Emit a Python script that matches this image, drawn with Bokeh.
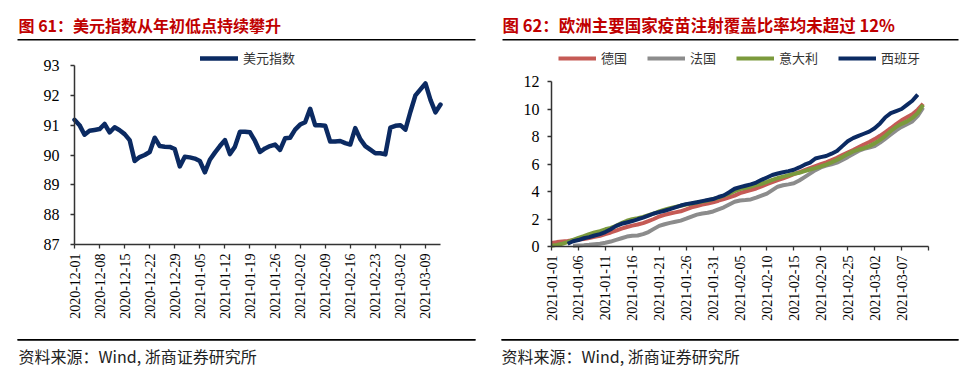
import math
from bokeh.plotting import figure
from bokeh.layouts import row, column
from bokeh.models import Range1d, FixedTicker, Legend, LegendItem, LinearAxis
from bokeh.core.properties import value
from bokeh.embed import file_html
from bokeh.resources import INLINE

# ---------------- data ----------------
title_left = "图 61：美元指数从年初低点持续攀升"
title_right = "图 62：欧洲主要国家疫苗注射覆盖比率均未超过 12%"
source_text = "资料来源：Wind, 浙商证券研究所"

dxy_label = "美元指数"
# one value per weekday from 2020-12-01 to 2021-03-12
dxy_values = [91.18, 91.00, 90.68, 90.81, 90.84, 90.87, 91.04, 90.76, 90.93, 90.83,
              90.70, 90.50, 89.80, 89.93, 90.00, 90.10, 90.58, 90.30, 90.28, 90.27,
              90.20, 89.62, 89.94, 89.92, 89.88, 89.80, 89.42, 89.84, 90.08, 90.30,
              90.50, 90.03, 90.28, 90.78, 90.78, 90.76, 90.47, 90.10, 90.22, 90.30,
              90.35, 90.17, 90.56, 90.58, 90.85, 91.02, 91.10, 91.55, 91.00, 91.00,
              90.98, 90.45, 90.45, 90.47, 90.40, 90.35, 90.90, 90.53, 90.30, 90.18,
              90.06, 90.06, 90.02, 90.92, 90.98, 91.00, 90.85, 91.45, 92.00, 92.20,
              92.40, 91.85, 91.43, 91.69]
dxy_tick_labels = ["2020-12-01", "2020-12-08", "2020-12-15", "2020-12-22", "2020-12-29",
                   "2021-01-05", "2021-01-12", "2021-01-19", "2021-01-26", "2021-02-02",
                   "2021-02-09", "2021-02-16", "2021-02-23", "2021-03-02", "2021-03-09"]
dxy_tick_step = 5          # weekdays between labelled ticks
dxy_y_ticks = [87, 88, 89, 90, 91, 92, 93]

# vaccination coverage (%), daily from 2021-01-01 (day 0)
vac_names = ["德国", "法国", "意大利", "西班牙"]
germany_start = 0
germany = [0.25, 0.32, 0.36, 0.40, 0.45, 0.50, 0.55, 0.62, 0.70, 0.78,
           0.90, 1.02, 1.15, 1.30, 1.42, 1.52, 1.60, 1.70, 1.85, 2.00,
           2.18, 2.30, 2.40, 2.48, 2.56, 2.70, 2.85, 2.95, 3.05, 3.13,
           3.22, 3.33, 3.45, 3.58, 3.70, 3.88, 4.00, 4.10, 4.22, 4.38,
           4.54, 4.68, 4.82, 4.95, 5.10, 5.26, 5.40, 5.55, 5.70, 5.85,
           5.99, 6.12, 6.28, 6.45, 6.65, 6.84, 7.02, 7.22, 7.42, 7.60,
           7.81, 8.05, 8.32, 8.60, 8.90, 9.18, 9.40, 9.62, 9.95, 10.38]
france_start = 4
france = [0.05, 0.08, 0.10, 0.13, 0.17, 0.20,
          0.27, 0.36, 0.48, 0.60, 0.72, 0.78, 0.80, 0.90, 1.05, 1.28,
          1.50, 1.62, 1.72, 1.80, 1.88, 2.02, 2.18, 2.32, 2.40, 2.45,
          2.55, 2.70, 2.85, 3.05, 3.25, 3.35, 3.38, 3.42, 3.55, 3.70,
          3.85, 4.10, 4.35, 4.45, 4.52, 4.60, 4.80, 5.05, 5.30, 5.55,
          5.75, 5.88, 5.98, 6.10, 6.30, 6.50, 6.72, 6.95, 7.10, 7.20,
          7.30, 7.55, 7.85, 8.15, 8.45, 8.70, 8.90, 9.10, 9.50, 10.10]
italy_start = 0
italy = [0.05, 0.12, 0.20, 0.32, 0.48, 0.62, 0.75, 0.90, 1.02, 1.12,
         1.25, 1.35, 1.50, 1.70, 1.87, 1.98, 2.06, 2.15, 2.28, 2.40,
         2.55, 2.68, 2.78, 2.88, 2.96, 3.05, 3.12, 3.20, 3.27, 3.35,
         3.45, 3.55, 3.70, 3.85, 4.02, 4.17, 4.25, 4.35, 4.47, 4.56,
         4.70, 4.85, 4.98, 5.08, 5.18, 5.28, 5.36, 5.48, 5.60, 5.70,
         5.82, 5.96, 6.12, 6.30, 6.50, 6.72, 6.92, 7.05, 7.15, 7.30,
         7.50, 7.75, 8.05, 8.40, 8.70, 8.92, 9.10, 9.35, 9.70, 10.30]
spain_start = 3
spain = [0.20, 0.38, 0.47, 0.60, 0.68, 0.80, 0.90,
         1.05, 1.26, 1.50, 1.65, 1.75, 1.85, 1.98, 2.10, 2.25, 2.40,
         2.50, 2.60, 2.72, 2.85, 2.98, 3.08, 3.15, 3.22, 3.30, 3.38,
         3.45, 3.60, 3.72, 3.95, 4.20, 4.32, 4.42, 4.52, 4.65, 4.85,
         5.02, 5.20, 5.31, 5.40, 5.48, 5.58, 5.75, 5.95, 6.10, 6.40,
         6.50, 6.58, 6.75, 6.95, 7.30, 7.65, 7.88, 8.05, 8.20, 8.35,
         8.60, 8.95, 9.40, 9.70, 9.85, 10.00, 10.30, 10.60, 11.05]
vac_tick_labels = ["2021-01-01", "2021-01-06", "2021-01-11", "2021-01-16", "2021-01-21",
                   "2021-01-26", "2021-01-31", "2021-02-05", "2021-02-10", "2021-02-15",
                   "2021-02-20", "2021-02-25", "2021-03-02", "2021-03-07", ""]
vac_tick_step = 5
vac_y_ticks = [0, 2, 4, 6, 8, 10, 12]

# ---------------- styles ----------------
CJK = "Noto Sans CJK SC"
SERIF = "Liberation Serif"
TITLE_RED = "#C00000"
AXIS_COL = "#333333"
navy = "#0B2A62"
vac_colors = ["#C55A55", "#8C8C8C", "#7B9A3C", "#0B2A62"]

PW = 973                   # page width
LW, RW = 488, 485          # panel widths
HH = 44                    # header height
BH = 376 - HH              # chart + footer height

# header spanning the whole page: two titles and two rules
hdr = figure(width=PW, height=HH, x_range=Range1d(0, PW), y_range=Range1d(0, HH),
             x_axis_type=None, y_axis_type=None, output_backend="svg",
             toolbar_location=None, min_border=0, min_border_left=0, min_border_right=0,
             min_border_top=0, min_border_bottom=0)
hdr.grid.visible = False
hdr.outline_line_color = None
hdr.text(x=[18], y=[HH - 24], text=[title_left], text_font=value(CJK),
         text_font_style="bold", text_font_size="16px", text_color=TITLE_RED,
         text_baseline="middle", text_align="left")
hdr.text(x=[502], y=[HH - 24], text=[title_right], text_font=value(CJK),
         text_font_style="bold", text_font_size="16.5px", text_color=TITLE_RED,
         text_baseline="middle", text_align="left")
hdr.multi_line(xs=[[17, 475], [502, 958]], ys=[[HH - 39.3] * 2, [HH - 39.3] * 2],
               line_color="black", line_width=1.5)


def panel(w, x_lo, x_hi, px_left, px_right, y_lo, y_hi, px_bottom, px_top):
    """Figure whose frame is the whole canvas; axes are pinned at the data origin.
    px_* are canvas pixel positions (from left / from bottom) of the value limits."""
    sx = (x_hi - x_lo) / (px_right - px_left)
    sy = (y_hi - y_lo) / (px_top - px_bottom)
    p = figure(width=w, height=BH,
               x_range=Range1d(x_lo - px_left * sx, x_hi + (w - px_right) * sx),
               y_range=Range1d(y_lo - px_bottom * sy, y_hi + (BH - px_top) * sy),
               x_axis_type=None, y_axis_type=None, output_backend="svg",
               toolbar_location=None, min_border=0, min_border_left=0, min_border_right=0,
               min_border_top=0, min_border_bottom=0)
    p.extra_x_ranges = {"px": Range1d(0, w)}
    p.extra_y_ranges = {"px": Range1d(0, BH)}
    p.grid.visible = False
    p.outline_line_color = None
    xa = LinearAxis(fixed_location=y_lo, bounds=(x_lo, x_hi))
    ya = LinearAxis(fixed_location=x_lo, bounds=(y_lo, y_hi))
    p.add_layout(xa, "below")
    p.add_layout(ya, "left")
    return p


def add_footer(p, tx, rx0, rx1):
    # rule as a thin filled bar (1.6 px) plus a stroked line on top of it
    p.quad(left=[rx0], right=[rx1], bottom=[376 - 340.1], top=[376 - 338.5],
           x_range_name="px", y_range_name="px",
           fill_color="black", line_color=None)
    p.segment(x0=[rx0], y0=[376 - 339.3], x1=[rx1], y1=[376 - 339.3],
              x_range_name="px", y_range_name="px", line_color="black", line_width=1.2)
    p.text(x=[tx], y=[376 - 355], text=[source_text], x_range_name="px", y_range_name="px",
           text_font=value(CJK), text_font_size="16px", text_color="#222222",
           text_baseline="middle", text_align="left")


def style_axes(p, standoff):
    for ax in (p.xaxis[0], p.yaxis[0]):
        ax.axis_line_color = AXIS_COL
        ax.axis_line_width = 1.5
        ax.major_tick_line_color = AXIS_COL
        ax.major_tick_line_width = 1.3
        ax.major_tick_out = 4
        ax.major_tick_in = 0
        ax.minor_tick_line_color = None
        ax.major_label_text_font = SERIF
        ax.major_label_text_color = "#000000"
    p.yaxis.major_label_text_font_size = "16px"
    p.yaxis.major_label_standoff = standoff
    p.xaxis.major_label_text_font_size = "14px"
    p.xaxis.major_label_orientation = math.pi / 2
    p.xaxis.major_label_standoff = 5


def make_legend(items, x, y):
    return Legend(items=items, location=(x, y), orientation="horizontal",
                  glyph_width=38, glyph_height=12, label_height=12, label_standoff=5,
                  padding=0, margin=0, spacing=20, border_line_color=None,
                  background_fill_alpha=0, label_text_font=CJK, label_text_font_size="13px",
                  label_text_color="#333333")


# ---------------- left chart ----------------
n_dxy = len(dxy_values)
dxy_x = list(range(n_dxy))
p1 = panel(LW, 0, n_dxy - 1, 74, 440, dxy_y_ticks[0], dxy_y_ticks[-1], 376 - 244, 376 - 65)
add_footer(p1, 18, 17, 475)
r_dxy = p1.line(dxy_x, dxy_values, line_color=navy, line_width=4.5, line_join="round", line_cap="round")
style_axes(p1, 11)
dxy_ticks = [i * dxy_tick_step for i in range(len(dxy_tick_labels))]
p1.xaxis.ticker = FixedTicker(ticks=dxy_ticks)
p1.xaxis.major_label_overrides = {t: lab for t, lab in zip(dxy_ticks, dxy_tick_labels)}
p1.yaxis.ticker = FixedTicker(ticks=dxy_y_ticks)
p1.add_layout(make_legend([LegendItem(label=dxy_label, renderers=[r_dxy])], 200, 376 - 67))

# ---------------- right chart ----------------
n_days = len(vac_tick_labels) * vac_tick_step - vac_tick_step
p2 = panel(RW, 0, n_days, 63, 440, vac_y_ticks[0], vac_y_ticks[-1], 376 - 246, 376 - 81)
add_footer(p2, 13, 13, 470)
series = [(germany_start, germany), (france_start, france), (italy_start, italy), (spain_start, spain)]
renderers = []
for (start, vals), col in zip(series, vac_colors):
    xs = [start + i for i in range(len(vals))]
    renderers.append(p2.line(xs, vals, line_color=col, line_width=4, line_join="round"))
style_axes(p2, 8)
vac_ticks = [i * vac_tick_step for i in range(len(vac_tick_labels))]
p2.xaxis.ticker = FixedTicker(ticks=vac_ticks)
p2.xaxis.major_label_overrides = {t: lab for t, lab in zip(vac_ticks, vac_tick_labels)}
p2.yaxis.ticker = FixedTicker(ticks=vac_y_ticks)
p2.add_layout(make_legend([LegendItem(label=nm, renderers=[r]) for nm, r in zip(vac_names, renderers)],
                          70, 376 - 67))

# ---------------- layout ----------------
layout = column(hdr, row(p1, p2))

open("out.html", "w").write(file_html(layout, INLINE))
